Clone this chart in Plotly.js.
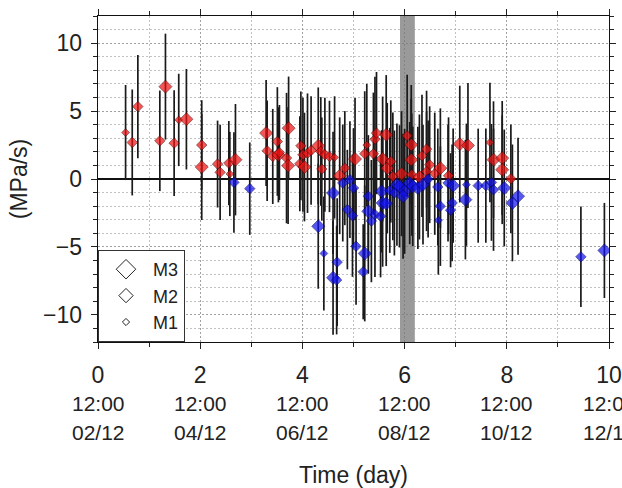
<!DOCTYPE html>
<html>
<head>
<meta charset="utf-8">
<script src="https://cdn.plot.ly/plotly-3.0.1.min.js"></script>
<style>html,body{margin:0;padding:0;background:#fff;}#chart{width:622px;height:488px;}</style>
</head>
<body>
<div id="chart"></div>
<script>
// ---- data ----
const redX = [0.54,0.67,0.78,1.21,1.32, 1.49,1.58,1.73,2.03,2.03, 2.34,2.39,2.56,2.58,2.69, 3.29,3.31,3.42,3.51,3.53, 3.55,3.73,3.69,3.72,3.97, 4.01,3.95,4.04,4.10,4.17, 4.31,4.36,4.44,4.53,4.63, 4.38,4.73,4.83,5.03,5.26, 5.22,5.39,5.42,5.45,5.64, 5.57,5.66,5.73,5.77,6.05, 6.13,6.13,6.34,6.43,6.49, 6.43,5.94,6.14,6.29,6.59, 6.70,6.86,7.08,7.24,7.67, 7.74,7.91,7.91,8.08];
const redY = [3.42,2.69,5.33,2.81,6.8, 2.64,4.35,4.4,2.5,0.88, 1.1,0.49,1.17,0.37,1.42, 3.38,2.08,1.66,2.76,1.78, 1.95,3.74,1.54,0.98,2.44, 1.78,1.12,0.88,1.9,2.1, 2.44,2.03,1.78,1.66,1.59, 0.73,0.24,0.8,1.47,2.5, 1.86,1.86,2.93,3.38,3.25, 1.47,0.8,1.29,0.19,3.18, 2.52,1.42,1.71,2.2,1.05, 0.56,0.39,0.32,0.15,0.39, 0.8,0.24,2.57,2.47,2.69, 1.42,1.54,0.68,0.02];
const redErr = [3.5,3.9,3.8,3.7,3.9, 3.9,3.4,3.7,3.3,3.9, 3.2,3.5,3.1,3.1,4.1, 3.9,3.7,3.5,4.0,3.5, 3.5,3.8,4.8,4.3,4.0, 4.2,3.5,4.0,4.4,4.0, 4.3,4.0,4.2,4.1,4.5, 3.8,4.3,4.2,4.5,4.5, 4.6,4.5,4.6,4.5,4.4, 4.6,4.8,4.5,4.7,4.5, 4.4,4.5,4.5,4.3,4.3, 4.4,4.6,4.5,4.6,4.5, 4.4,4.3,4.3,4.6,4.4, 4.3,4.2,4.0,4.0];
const redMag = [1,2,2,2,3, 2,1,3,2,3, 2,2,2,1,3, 3,2,2,2,3, 2,3,2,3,2, 2,2,3,2,2, 3,2,2,2,1, 2,3,2,3,1, 2,2,2,2,3, 3,3,2,2,2, 3,3,2,2,2, 2,3,2,3,2, 3,2,3,3,1, 3,3,3,2];

const blueX = [2.66,2.97,4.31,4.42,4.60,4.68,4.60,4.67,4.79,4.93, 5.00,4.88,4.98,5.05,5.22,5.19,5.29,5.29,5.35,5.42, 5.55,5.57,5.64,5.53,5.71,5.85,5.80,5.90,6.00,6.10, 6.16,6.26,6.36,6.46,5.97,6.65,6.70,6.66,6.85,6.95, 6.93,6.90,7.21,7.19,7.44,7.59,7.70,7.74,7.95,8.11, 8.22,9.45,9.91];
const blueY = [-0.25,-0.71,-3.48,-5.48,-1.03,-6.12,-7.27,-7.44,-0.3,-0.05, -0.66,-2.25,-2.7,-4.95,-5.48,-6.83,-1.27,-2.38,-3.1,-2.62, -0.91,-1.76,-1.81,-2.74,-0.84,-0.42,-1.03,-0.54,-0.91,-0.3, -0.54,-0.66,-0.42,0.0,-1.27,-0.59,-2.0,-3.04,-0.3,-0.49, -1.76,-2.3,-0.42,-1.52,-0.49,-0.49,-0.25,-0.79,-0.66,-1.76, -1.27,-5.73,-5.26];
const blueErr = [3.7,3.4,4.6,4.2,4.5,4.7,4.2,4.0,4.3,4.3, 4.4,4.4,4.5,4.3,5.0,3.5,4.5,4.6,4.5,4.6, 4.5,4.7,4.6,4.5,4.6,4.5,4.6,4.5,4.6,4.5, 4.4,4.5,4.4,4.3,4.6,4.3,4.4,4.0,4.3,4.2, 4.3,4.2,4.5,4.4,4.2,4.2,4.3,4.5,4.3,4.3, 4.3,3.7,3.5];
const blueMag = [2,2,3,1,3,2,3,2,2,2, 2,2,2,2,3,2,2,3,2,2, 3,3,3,2,2,3,2,3,3,3, 3,3,3,2,3,2,2,1,2,3, 2,2,1,3,2,2,2,2,3,3, 3,2,3];

const bandX = [5.91, 6.20];
const legendNames = ['M3','M2','M1'];
const dateTimes = ['12:00','12:00','12:00','12:00','12:00','12:00'];
const dateDays = ['02/12','04/12','06/12','08/12','10/12','12/12'];
const dateTickX = [0,2,4,6,8,10];

// ---- styles ----
const FONT = 'Liberation Sans, Arial, sans-serif';
const TXT = '#222';
const magSize = {1:6, 2:8, 3:10};
const legendSize = {M3:15, M2:11, M1:5.5};

function barTrace(x, y, e) {
  return {x:x, y:y, type:'scatter', mode:'markers', showlegend:false, hoverinfo:'skip',
    marker:{size:1, color:'rgba(0,0,0,0)'},
    error_y:{type:'data', array:e, symmetric:true, color:'#1a1a1a', thickness:1.7, width:0}};
}
function markTrace(x, y, mag, fill, edge) {
  return {x:x, y:y, type:'scatter', mode:'markers', showlegend:false,
    marker:{symbol:'diamond', size:mag.map(m => magSize[m]), color:fill, line:{color:edge, width:0.8}}};
}

const traces = [
  barTrace(redX, redY, redErr),
  barTrace(blueX, blueY, blueErr),
  markTrace(redX, redY, redMag, '#f01010', '#4a0000'),
  markTrace(blueX, blueY, blueMag, '#1010ee', '#00005a')
];
legendNames.forEach(n => traces.push({x:[null], y:[null], type:'scatter', mode:'markers', name:n,
  marker:{symbol:'diamond-open', size:legendSize[n], color:'#222', line:{width:1}}}));

const annotations = [];
dateTickX.forEach((dx, i) => {
  annotations.push({xref:'x', yref:'paper', x:dx, y:-0.189, text:dateTimes[i], showarrow:false,
    xanchor:'center', yanchor:'middle', font:{family:FONT, size:21, color:TXT}});
  annotations.push({xref:'x', yref:'paper', x:dx, y:-0.277, text:dateDays[i], showarrow:false,
    xanchor:'center', yanchor:'middle', font:{family:FONT, size:21, color:TXT}});
});

const majorGrid = {griddash:'2px,2px', gridcolor:'#777', gridwidth:0.7};
const minorGrid = {showgrid:true, griddash:'2px,2px', gridcolor:'#9a9a9a', gridwidth:0.6};
const layout = {
  width:622, height:488,
  margin:{l:98, r:13, t:16, b:146, pad:0},
  paper_bgcolor:'#fff', plot_bgcolor:'#fff',
  font:{family:FONT, color:TXT, size:21},
  showlegend:true,
  legend:{x:0, y:0, xanchor:'left', yanchor:'bottom', bgcolor:'#fff', bordercolor:'#333', borderwidth:1,
    font:{family:FONT, size:18, color:TXT}, itemwidth:44, tracegroupgap:0, traceorder:'normal'},
  xaxis:{range:[0,10], tick0:0, dtick:2, ticks:'outside', ticklen:6, tickcolor:'#222', tickwidth:1,
    showline:true, linecolor:'#111', linewidth:1.3, mirror:'ticks', zeroline:false,
    showgrid:true, ...majorGrid,
    minor:{dtick:1, tick0:0, ticks:'outside', ticklen:4, tickcolor:'#222', ...minorGrid},
    tickfont:{family:FONT, size:23, color:TXT}, ticklabelstandoff:6,
    title:{text:'Time (day)', font:{family:FONT, size:23, color:TXT}, standoff:90}, automargin:false},
  yaxis:{range:[-12,12], tick0:0, dtick:5, ticks:'outside', ticklen:6, tickcolor:'#222', tickwidth:1,
    showline:true, linecolor:'#111', linewidth:1.3, mirror:'ticks',
    zeroline:true, zerolinecolor:'#111', zerolinewidth:1.6,
    showgrid:true, ...majorGrid,
    minor:{dtick:1, tick0:0, ticks:'outside', ticklen:4, tickcolor:'#222', ...minorGrid},
    tickfont:{family:FONT, size:23, color:TXT}, ticklabelstandoff:4,
    title:{text:'(MPa/s)', font:{family:FONT, size:23, color:TXT}, standoff:9}, automargin:false},
  shapes:[{type:'rect', xref:'x', yref:'paper', x0:bandX[0], x1:bandX[1], y0:0, y1:1,
    fillcolor:'#9a9a9a', line:{width:0}, layer:'between'}],
  annotations:annotations
};

Plotly.newPlot('chart', traces, layout, {staticPlot:true, displayModeBar:false});
</script>
</body>
</html>
